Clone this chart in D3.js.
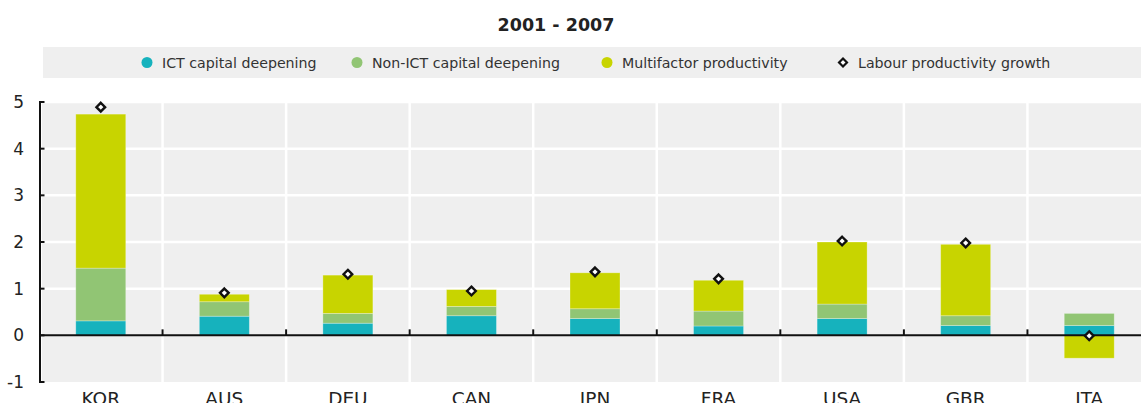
<!DOCTYPE html>
<html><head><meta charset="utf-8">
<script src="https://cdn.jsdelivr.net/npm/d3@7"></script>
<style>body{margin:0;background:#fff}svg{display:block}text{font-family:"DejaVu Sans","Noto Sans",sans-serif}</style>
</head><body><svg id="c" width="1141" height="403"></svg>
<script>
const categories = ["KOR","AUS","DEU","CAN","JPN","FRA","USA","GBR","ITA"];
const ictCapital = [0.31,0.41,0.26,0.42,0.36,0.20,0.36,0.21,0.21];
const nonIctCapital = [1.13,0.31,0.21,0.20,0.21,0.32,0.31,0.21,0.26];
const multifactor = [3.30,0.16,0.82,0.36,0.77,0.66,1.33,1.53,-0.49];
const labourProductivity = [4.89,0.91,1.31,0.95,1.36,1.21,2.02,1.98,-0.01];
const yTicks = [-1,0,1,2,3,4,5];
const seriesNames = ["ICT capital deepening","Non-ICT capital deepening","Multifactor productivity","Labour productivity growth"];
const colors = ["#16b2bd","#91c574","#c8d400"];

const svg = d3.select("#c");
const x = d3.scaleBand().domain(categories).range([39, 1151]).paddingInner(0).paddingOuter(0);
const y = d3.scaleLinear().domain([-1,5]).range([382,102]);
const W = 1141;

// title
svg.append("text").attr("x",556).attr("y",31).attr("text-anchor","middle")
  .attr("font-size",17.5).attr("font-weight","bold").attr("fill","#222").text("2001 - 2007");

// legend
svg.append("rect").attr("x",43).attr("y",47).attr("width",W-43).attr("height",31).attr("fill","#efefef");
const legX = [147,357,607,843];
seriesNames.forEach((n,i)=>{
  if(i<3) svg.append("circle").attr("cx",legX[i]).attr("cy",62.5).attr("r",5.5).attr("fill",colors[i]);
  else svg.append("path").attr("d",d3.symbol(d3.symbolDiamond2,40)()).attr("transform",`translate(${legX[i]},62.5)`)
    .attr("fill","#fff").attr("stroke","#111").attr("stroke-width",2.2);
  svg.append("text").attr("x",legX[i]+15).attr("y",67.5).attr("font-size",14.2).attr("fill","#333").text(n);
});

// plot background
svg.append("rect").attr("x",42).attr("y",y(5)).attr("width",W-42).attr("height",y(-1)-y(5)).attr("fill","#efefef");
// horizontal gridlines
svg.append("g").selectAll("line").data(yTicks.filter(d=>d!==0 && d!==-1)).join("line")
  .attr("x1",42).attr("x2",W).attr("y1",d=>y(d)).attr("y2",d=>y(d)).attr("stroke","#fff").attr("stroke-width",2.5);
// vertical gridlines at band boundaries
const bounds = categories.slice(1).map(c=>x(c));
svg.append("g").selectAll("line").data(bounds).join("line")
  .attr("x1",d=>d).attr("x2",d=>d).attr("y1",y(5)).attr("y2",y(-1)).attr("stroke","#fff").attr("stroke-width",2.5);

// stacked bars
const bw = 50;
categories.forEach((c,i)=>{
  const vals=[ictCapital[i],nonIctCapital[i],multifactor[i]];
  let pos=0,neg=0;
  vals.forEach((v,k)=>{
    let y0,y1;
    if(v>=0){y0=pos;y1=pos+v;pos=y1;} else {y0=neg;y1=neg+v;neg=y1;}
    svg.append("rect").attr("x",x(c)+x.bandwidth()/2-bw/2).attr("width",bw)
      .attr("y",y(Math.max(y0,y1))).attr("height",Math.abs(y(y0)-y(y1)))
      .attr("fill",colors[k]).attr("stroke","rgba(255,255,255,0.35)").attr("stroke-width",0.8);
  });
});

// zero line
svg.append("line").attr("x1",40).attr("x2",W).attr("y1",y(0)).attr("y2",y(0)).attr("stroke","#111").attr("stroke-width",2);
// category ticks on zero line
svg.append("g").selectAll("line").data(bounds).join("line")
  .attr("x1",d=>d).attr("x2",d=>d).attr("y1",y(0)).attr("y2",y(0)-6).attr("stroke","#111").attr("stroke-width",2);

// y axis
svg.append("line").attr("x1",40).attr("x2",40).attr("y1",y(5)-1).attr("y2",y(-1)+1).attr("stroke","#111").attr("stroke-width",2);
svg.append("g").selectAll("line").data(yTicks).join("line")
  .attr("x1",39).attr("x2",44.5).attr("y1",d=>y(d)).attr("y2",d=>y(d)).attr("stroke","#111").attr("stroke-width",2);
svg.append("g").selectAll("text").data(yTicks).join("text")
  .attr("x",24).attr("y",d=>y(d)+6).attr("text-anchor","end").attr("font-size",17).attr("fill","#222").text(d=>d);

// x labels
svg.append("g").selectAll("text").data(categories).join("text")
  .attr("x",d=>x(d)+x.bandwidth()/2).attr("y",405).attr("text-anchor","middle")
  .attr("font-size",18.5).attr("fill","#222").text(d=>d);

// diamonds
svg.append("g").selectAll("path").data(categories).join("path")
  .attr("d",d3.symbol(d3.symbolDiamond2,48)())
  .attr("transform",(d,i)=>`translate(${x(d)+x.bandwidth()/2},${y(labourProductivity[i])})`)
  .attr("fill","#fff").attr("stroke","#111").attr("stroke-width",2.4);
</script></body></html>
